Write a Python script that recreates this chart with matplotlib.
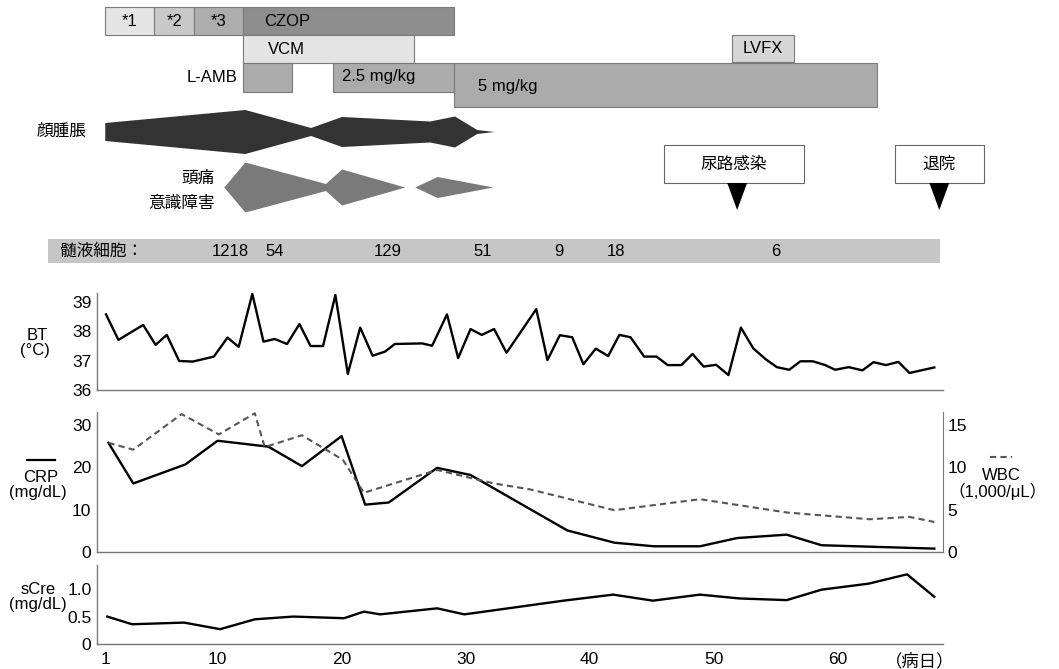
import matplotlib
matplotlib.use("Agg")
import matplotlib.pyplot as plt
from matplotlib.lines import Line2D

plt.rcParams['font.family'] = ['Liberation Sans', 'Noto Sans CJK JP']

# -------------------------------
# DATA (day of illness)
# -------------------------------
abx_names = ["*1", "*2", "*3", "CZOP"]
abx_start = [0.9, 4.9, 8.1, 12.05]
abx_end = [4.9, 8.1, 12.05, 29.1]

vcm_start, vcm_end = 12.05, 25.8
lvfx_start, lvfx_end = 51.5, 56.5

lamb_doses = ["", "2.5 mg/kg", "5 mg/kg"]
lamb_start = [12.05, 19.3, 29.1]
lamb_end = [16.0, 29.1, 63.2]

# symptom intensity (half thickness of the band)
face_days = [0.9, 12.2, 17.5, 20.0, 27.1, 29.1, 30.9, 32.3]
face_size = [9, 22, 4, 15, 10.5, 15.5, 2, 0]
head_days_a = [10.5, 12.2, 18.7, 20.0, 25.1]
head_size_a = [0, 25, 3.5, 18, 0]
head_days_b = [25.9, 27.7, 32.2]
head_size_b = [0, 10.5, 0]

events = ["尿路感染", "退院"]
event_days = [51.9, 68.2]

csf_days = [11.0, 14.6, 23.7, 31.4, 37.5, 42.1, 55.0]
csf_counts = ["1218", "54", "129", "51", "9", "18", "6"]

bt_days = [1.0, 2.0, 4.0, 5.0, 5.9, 6.9, 8.0, 9.7, 10.8, 11.7, 12.8, 13.7, 14.6,
           15.6, 16.6, 17.5, 18.5, 19.5, 20.5, 21.5, 22.5, 23.5, 24.3, 26.5, 27.3,
           28.5, 29.4, 30.4, 31.3, 32.3, 33.3, 35.7, 36.6, 37.6, 38.6, 39.5, 40.5,
           41.5, 42.4, 43.3, 44.4, 45.4, 46.3, 47.4, 48.3, 49.2, 50.2, 51.2, 52.2,
           53.2, 54.2, 55.1, 56.1, 57.0, 58.0, 59.0, 59.8, 60.9, 62.0, 62.9, 63.9,
           64.9, 65.8, 67.8]
bt_vals = [38.58, 37.71, 38.22, 37.54, 37.88, 36.99, 36.97, 37.14, 37.79, 37.47,
           39.28, 37.65, 37.74, 37.57, 38.25, 37.50, 37.50, 39.24, 36.55, 38.13,
           37.17, 37.31, 37.57, 37.59, 37.51, 38.58, 37.09, 38.08, 37.88, 38.08,
           37.27, 38.76, 37.02, 37.87, 37.80, 36.88, 37.41, 37.16, 37.88, 37.80,
           37.14, 37.14, 36.85, 36.85, 37.23, 36.80, 36.86, 36.51, 38.13, 37.42,
           37.05, 36.78, 36.69, 36.98, 36.98, 36.85, 36.69, 36.78, 36.67, 36.95,
           36.85, 36.96, 36.58, 36.77]

crp_days = [1.2, 3.2, 7.4, 10.0, 14.1, 16.8, 20.0, 21.9, 23.8, 27.7, 30.4, 38.2,
            42.0, 45.2, 48.9, 51.9, 55.9, 58.7, 67.8]
crp_vals = [25.8, 16.2, 20.7, 26.3, 24.9, 20.3, 27.4, 11.2, 11.7, 19.9, 18.2, 5.1,
            2.2, 1.35, 1.35, 3.3, 4.1, 1.6, 0.8]

wbc_days = [1.2, 3.2, 7.1, 10.1, 13.0, 13.8, 16.8, 20.1, 21.8, 27.7, 32.3, 35.2,
            42.0, 48.9, 55.9, 62.6, 65.8, 67.8]
wbc_vals = [12.9, 12.1, 16.3, 13.9, 16.4, 12.4, 13.8, 10.9, 7.0, 9.7, 8.1, 7.4,
            4.94, 6.24, 4.67, 3.87, 4.15, 3.55]

scre_days = [1.1, 3.1, 7.3, 10.2, 13.0, 16.1, 20.2, 21.8, 23.1, 27.7, 29.9, 37.9,
             41.9, 45.1, 48.9, 52.1, 55.9, 58.7, 62.5, 65.6, 67.8]
scre_vals = [0.50, 0.36, 0.39, 0.27, 0.45, 0.50, 0.47, 0.59, 0.54, 0.65, 0.54, 0.79,
             0.90, 0.79, 0.90, 0.83, 0.80, 0.99, 1.10, 1.27, 0.86]

x_ticks = [1, 10, 20, 30, 40, 50, 60]

# -------------------------------
# LAYOUT (pixels)
# -------------------------------
W, H = 1059, 669
PX_PER_DAY = 12.4
DAY1_PX = 106


def px_to_day(x):
    return 1 + (x - DAY1_PX) / PX_PER_DAY


def add_px_axes(left, top, right, bottom):
    return fig.add_axes([left / W, 1 - bottom / H, (right - left) / W, (bottom - top) / H])


def fx(x):
    return x / W


def fy(y):
    return 1 - y / H


fig = plt.figure(figsize=(W / 100, H / 100), dpi=100)

# overlay axes covering the whole figure: x in days, y in pixels
ax0 = fig.add_axes([0, 0, 1, 1])
ax0.set_xlim(px_to_day(0), px_to_day(W))
ax0.set_ylim(H, 0)
ax0.axis("off")

edge = "#7a7a7a"
fs = 12

# antibiotics row
abx_colors = ["#e4e4e4", "#c8c8c8", "#adadad", "#8e8e8e"]
for name, s, e, c in zip(abx_names, abx_start, abx_end, abx_colors):
    ax0.barh(21, e - s, left=s, height=28, color=c, edgecolor=edge, linewidth=0.8)
    if name == "CZOP":
        ax0.text(s + 1.7, 21, name, ha="left", va="center", fontsize=fs)
    else:
        ax0.text((s + e) / 2, 21, name, ha="center", va="center", fontsize=fs)

# VCM / LVFX
ax0.barh(49, vcm_end - vcm_start, left=vcm_start, height=28, color="#e4e4e4",
         edgecolor=edge, linewidth=0.8)
ax0.text(vcm_start + 2.0, 49, "VCM", ha="left", va="center", fontsize=fs)
ax0.barh(48.5, lvfx_end - lvfx_start, left=lvfx_start, height=27, color="#d6d6d6",
         edgecolor=edge, linewidth=0.8)
ax0.text((lvfx_start + lvfx_end) / 2, 48.5, "LVFX", ha="center", va="center", fontsize=fs)

# L-AMB
lamb_tops = [63, 63, 63]
lamb_bottoms = [92, 92, 107]
for dose, s, e, t, b in zip(lamb_doses, lamb_start, lamb_end, lamb_tops, lamb_bottoms):
    ax0.barh((t + b) / 2, e - s, left=s, height=b - t, color="#ababab",
             edgecolor=edge, linewidth=0.8)
ax0.text(lamb_start[1] + 0.75, 77, lamb_doses[1], ha="left", va="center", fontsize=fs)
ax0.text(lamb_start[2] + 1.9, 87, lamb_doses[2], ha="left", va="center", fontsize=fs)
ax0.text(px_to_day(238), 78, "L-AMB", ha="right", va="center", fontsize=fs)

# symptoms
fc = 131.5
ax0.fill_between(face_days, [fc - s for s in face_size], [fc + s for s in face_size],
                 color="#333333", linewidth=0)
ax0.text(px_to_day(37), fc, "顔腫脹", ha="left", va="center", fontsize=fs)

hc = 187
for d, s in [(head_days_a, head_size_a), (head_days_b, head_size_b)]:
    ax0.fill_between(d, [hc - v for v in s], [hc + v for v in s],
                     color="#7a7a7a", linewidth=0)
ax0.text(px_to_day(215), 178, "頭痛", ha="right", va="center", fontsize=fs)
ax0.text(px_to_day(215), 203, "意識障害", ha="right", va="center", fontsize=fs)

# events
box_w = [11.3, 7.2]
box_shift = [-0.25, 0.0]
for name, d, w, sh in zip(events, event_days, box_w, box_shift):
    ax0.bar(d + sh, 38, bottom=145, width=w, color="white", edgecolor="#666666",
            linewidth=0.8)
    ax0.text(d + sh, 164, name, ha="center", va="center", fontsize=fs)
    ax0.fill([d - 0.8, d + 0.8, d], [183, 183, 210], color="black", linewidth=0)

# CSF band
ax0.barh(251, px_to_day(940) - px_to_day(48), left=px_to_day(48), height=24,
         color="#c6c6c6", linewidth=0)
ax0.text(px_to_day(60), 251, "髄液細胞：", ha="left", va="center", fontsize=fs)
for d, c in zip(csf_days, csf_counts):
    ax0.text(d, 251, c, ha="center", va="center", fontsize=fs)


def style_axes(ax):
    for sp in ["top", "right"]:
        ax.spines[sp].set_visible(False)
    for sp in ["left", "bottom"]:
        ax.spines[sp].set_color("#777777")
        ax.spines[sp].set_linewidth(1.0)
    ax.tick_params(length=0, labelsize=12.5, pad=4)
    ax.set_xlim(px_to_day(97), px_to_day(943))
    ax.set_xticks([])
    ax.patch.set_alpha(0)


# BT
ax_bt = add_px_axes(97, 293, 943, 390)
style_axes(ax_bt)
ax_bt.plot(bt_days, bt_vals, color="black", linewidth=1.7)
ax_bt.set_ylim(36, 39.31)
ax_bt.set_yticks([36, 37, 38, 39])
fig.text(fx(37), fy(335), "BT", ha="center", va="center", fontsize=fs)
fig.text(fx(35), fy(350), "(°C)", ha="center", va="center", fontsize=fs)

# CRP / WBC
ax_crp = add_px_axes(97, 412, 943, 552)
style_axes(ax_crp)
ax_crp.spines["right"].set_visible(True)
ax_crp.spines["right"].set_color("#777777")
ax_crp.plot(crp_days, crp_vals, color="black", linewidth=1.7)
ax_crp.set_ylim(0, 33.1)
ax_crp.set_yticks([0, 10, 20, 30])
ax_wbc = ax_crp.twinx()
ax_wbc.plot(wbc_days, wbc_vals, color="#555555", linewidth=1.5, linestyle=(0, (3, 2)))
ax_wbc.set_ylim(0, 16.55)
ax_wbc.set_yticks([0, 5, 10, 15])
for sp in ax_wbc.spines.values():
    sp.set_visible(False)
ax_wbc.tick_params(length=0, labelsize=12.5, pad=3)

fig.add_artist(Line2D([fx(27), fx(55)], [fy(460), fy(460)], color="black", linewidth=1.6))
fig.text(fx(41), fy(477), "CRP", ha="center", va="center", fontsize=fs)
fig.text(fx(38), fy(492), "(mg/dL)", ha="center", va="center", fontsize=fs)
fig.add_artist(Line2D([fx(990), fx(1012)], [fy(457), fy(457)], color="#555555",
                      linewidth=1.5, linestyle=(0, (3, 2))))
fig.text(fx(1001), fy(475), "WBC", ha="center", va="center", fontsize=fs)
fig.text(fx(998), fy(491), "（1,000/μL）", ha="center", va="center", fontsize=fs)

# sCre
ax_cr = add_px_axes(97, 565, 943, 644)
style_axes(ax_cr)
ax_cr.plot(scre_days, scre_vals, color="black", linewidth=1.7)
ax_cr.set_ylim(0, 1.44)
ax_cr.set_yticks([0, 0.5, 1.0])
ax_cr.set_yticklabels(["0", "0.5", "1.0"])
ax_cr.set_xticks(x_ticks + [66.6])
ax_cr.set_xticklabels([str(t) for t in x_ticks] + ["（病日）"])
ax_cr.tick_params(axis="x", pad=6)
fig.text(fx(38), fy(590), "sCre", ha="center", va="center", fontsize=fs)
fig.text(fx(38), fy(605), "(mg/dL)", ha="center", va="center", fontsize=fs)

fig.savefig("out.png", dpi=100)
